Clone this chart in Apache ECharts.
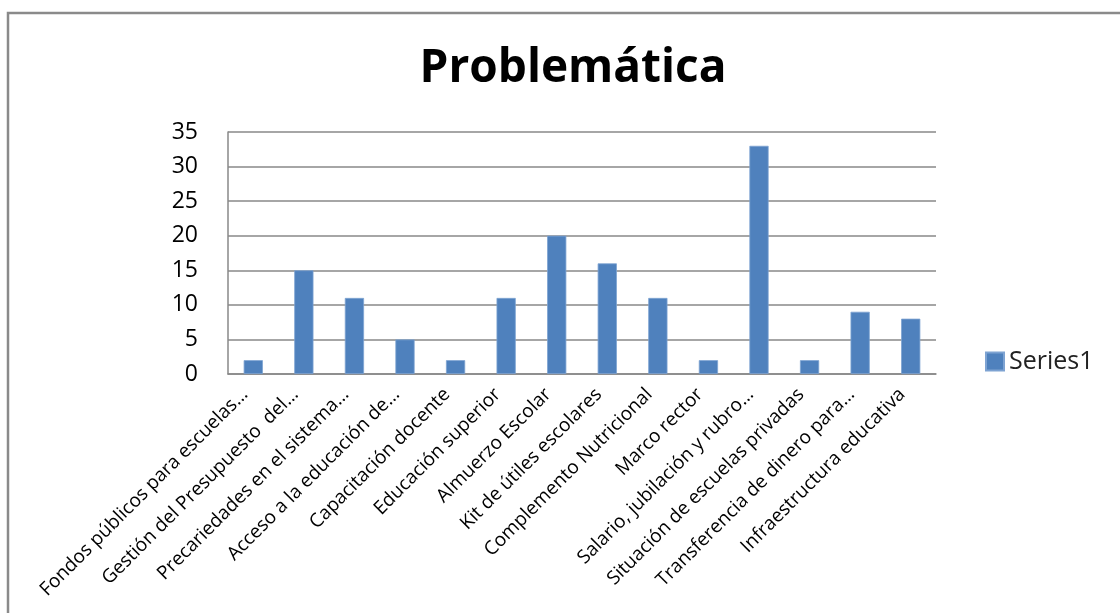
<!DOCTYPE html>
<html>
<head>
<meta charset="utf-8">
<script src="https://cdn.jsdelivr.net/npm/echarts@6/dist/echarts.min.js"></script>
<style>
html,body{margin:0;padding:0;background:#fff;}
#chart{width:1120px;height:613px;}
</style>
</head>
<body>
<div id="chart"></div>
<script>
const categories = [
  "Fondos públicos para escuelas…",
  "Gestión del Presupuesto  del…",
  "Precariedades en el sistema…",
  "Acceso a la educación de…",
  "Capacitación docente",
  "Educación superior",
  "Almuerzo Escolar",
  "Kit de útiles escolares",
  "Complemento Nutricional",
  "Marco rector",
  "Salario, jubilación y rubro…",
  "Situación de escuelas privadas",
  "Transferencia de dinero para…",
  "Infraestructura educativa"
];
const series1 = [2, 15, 11, 5, 2, 11, 20, 16, 11, 2, 33, 2, 9, 8];
const yTicks = [0, 5, 10, 15, 20, 25, 30, 35];

const chart = echarts.init(document.getElementById('chart'));
const font = "'Open Sans', 'DejaVu Sans', sans-serif";
chart.setOption({
  animation: false,
  backgroundColor: '#fff',
  graphic: [{
    type: 'rect',
    shape: { x: 8, y: 13, width: 1200, height: 700 },
    style: { fill: 'none', stroke: '#8a8a8a', lineWidth: 2.5 },
    silent: true
  }],
  title: {
    text: 'Problemática',
    left: 568, top: 41, textAlign: 'center',
    textStyle: { fontFamily: font, fontWeight: 'bold', fontSize: 46, color: '#000' }
  },
  legend: {
    left: 985, top: 349, padding: 0,
    itemWidth: 18, itemHeight: 18, itemGap: 6,
    icon: 'rect',
    textStyle: { fontFamily: font, fontSize: 25, color: '#222', padding: [0, 0, 0, 0] },
    data: ['Series1']
  },
  grid: { left: 228, right: 184, top: 132, bottom: 239, containLabel: false },
  xAxis: {
    type: 'category',
    data: categories,
    axisLine: { show: true, lineStyle: { color: '#888', width: 1.5 } },
    axisTick: { show: false },
    axisLabel: {
      interval: 0, rotate: 45, margin: 9,
      padding: [0, 12, 0, 0],
      fontFamily: font, fontSize: 19, color: '#000'
    }
  },
  yAxis: {
    type: 'value', min: 0, max: 35, interval: 5,
    axisLine: { show: true, lineStyle: { color: '#888', width: 1.5 } },
    axisTick: { show: false },
    axisLabel: {
      margin: 30, fontFamily: font, fontSize: 23, color: '#000',
      formatter: v => yTicks.includes(v) ? String(v) : ''
    },
    splitLine: { show: true, lineStyle: { color: '#888', width: 1.5 } }
  },
  series: [{
    name: 'Series1',
    type: 'bar',
    data: series1,
    barWidth: '38%',
    itemStyle: { color: '#4F81BD', borderColor: '#7EA3D2', borderWidth: 0.8 }
  }]
});
</script>
</body>
</html>
